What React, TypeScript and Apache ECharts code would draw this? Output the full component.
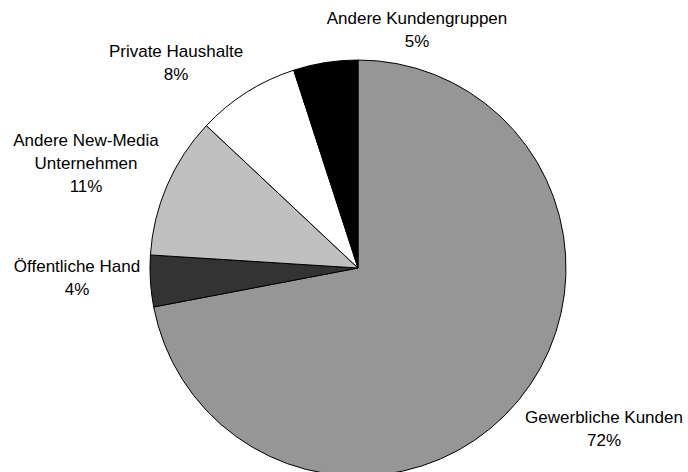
import React, { useEffect, useRef } from "react";
import * as echarts from "echarts";

const categories = [
  "Gewerbliche Kunden",
  "Öffentliche Hand",
  "Andere New-Media\nUnternehmen",
  "Private Haushalte",
  "Andere Kundengruppen",
];
const shares = [72, 4, 11, 8, 5];
const sliceColors = ["#969696", "#333333", "#c0c0c0", "#ffffff", "#000000"];

// label anchor positions (layout only)
const labelAnchors: [number, number][] = [
  [604, 429],
  [77, 278],
  [86, 163],
  [176, 63],
  [417, 30],
];

export default function App() {
  const ref = useRef<HTMLDivElement>(null);
  useEffect(() => {
    if (!ref.current) return;
    const chart = echarts.init(ref.current, null, { renderer: "svg" });
    chart.setOption({
      animation: false,
      backgroundColor: "#ffffff",
      series: [
        {
          type: "pie",
          center: [358, 268],
          radius: 208,
          startAngle: 90,
          clockwise: true,
          silent: true,
          emphasis: { disabled: true },
          itemStyle: { borderColor: "#000000", borderWidth: 1 },
          label: {
            show: true,
            position: "outside",
            formatter: (p: any) => `${p.name}\n${p.value}%`,
            fontFamily: "Liberation Sans, Arial, sans-serif",
            fontSize: 17,
            lineHeight: 23,
            color: "#000000",
            align: "center",
            overflow: "none",
            width: 300,
          },
          labelLine: { show: false },
          labelLayout: (params: any) => {
            const a = labelAnchors[params.dataIndex];
            return { x: a[0], y: a[1], align: "center", verticalAlign: "middle" };
          },
          data: categories.map((name, i) => ({
            name,
            value: shares[i],
            itemStyle: { color: sliceColors[i] },
          })),
        },
      ],
    });
    return () => chart.dispose();
  }, []);
  return (
    <div
      ref={ref}
      style={{ position: "fixed", left: 0, top: 0, width: 688, height: 472 }}
    />
  );
}
